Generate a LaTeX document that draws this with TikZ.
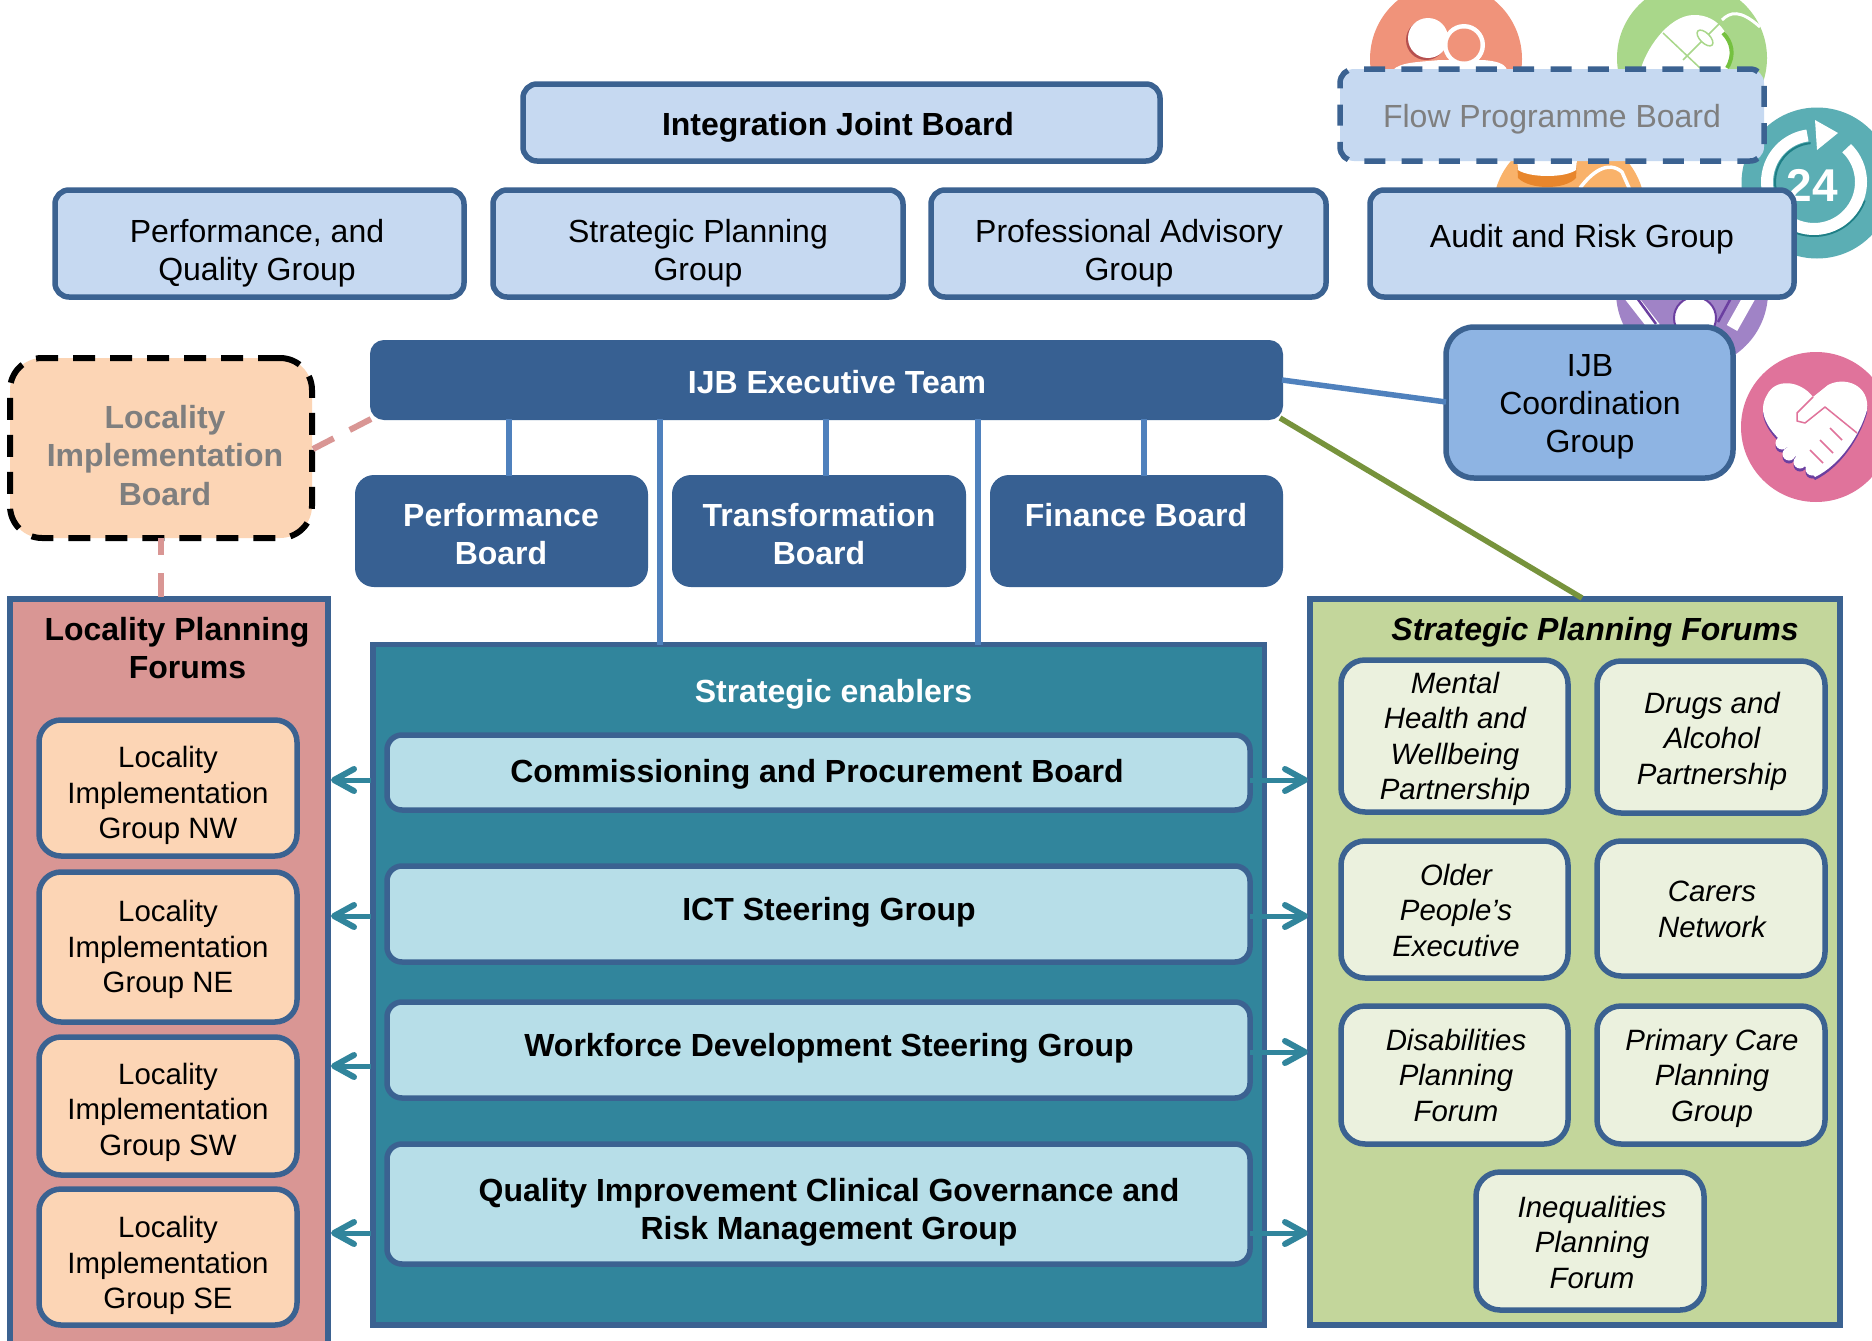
\documentclass[tikz,border=0pt]{standalone}
\usepackage{fontspec}
\setmainfont{Liberation Sans}
\usetikzlibrary{arrows.meta}
\definecolor{edgeblue}{HTML}{3B6291}
\definecolor{lightblue}{HTML}{C6D9F1}
\definecolor{darkblue}{HTML}{376092}
\definecolor{midblue}{HTML}{8EB4E3}
\definecolor{pinkbox}{HTML}{D99694}
\definecolor{peach}{HTML}{FCD5B5}
\definecolor{teal}{HTML}{31859C}
\definecolor{paleteal}{HTML}{B7DEE8}
\definecolor{greenbox}{HTML}{C3D69B}
\definecolor{palegreen}{HTML}{EBF1DE}
\definecolor{linkblue}{HTML}{4F81BD}
\definecolor{linkgreen}{HTML}{77933C}
\definecolor{greytext}{HTML}{7F7F7F}
\definecolor{icsalmon}{HTML}{F0937A}
\definecolor{icsalmond}{HTML}{B5504F}
\definecolor{icgreen}{HTML}{A9D78A}
\definecolor{icgreend}{HTML}{75C13F}
\definecolor{icorange}{HTML}{F9B26A}
\definecolor{icoranged}{HTML}{E8862C}
\definecolor{icteal}{HTML}{5BAEB4}
\definecolor{ictealg}{HTML}{1F7F86}
\definecolor{icpurple}{HTML}{A083C6}
\definecolor{icpurpled}{HTML}{6B3FA0}
\definecolor{icpink}{HTML}{E0739B}
\tikzset{
  x=1pt,y=-1pt,
  boxbase/.style={draw=edgeblue,line width=5.5pt,inner sep=0pt,outer sep=0pt,rectangle},
  topbox/.style={boxbase,fill=lightblue,rounded corners=14pt},
  flowbox/.style={topbox,dash pattern=on 21pt off 16.3pt,dash phase=8pt},
  coordbox/.style={boxbase,fill=midblue,rounded corners=28pt},
  darkbox/.style={boxbase,fill=darkblue,draw=darkblue,rounded corners=18pt,line width=2pt},
  execbox/.style={darkbox,rounded corners=13pt},
  lib/.style={boxbase,fill=peach,draw=black,line width=6pt,rounded corners=32pt,dash pattern=on 22pt off 15pt},
  panelpink/.style={boxbase,fill=pinkbox},
  panelteal/.style={boxbase,fill=teal},
  panelgreen/.style={boxbase,fill=greenbox},
  lig/.style={boxbase,fill=peach,rounded corners=22pt},
  enabler/.style={boxbase,fill=paleteal,rounded corners=15pt},
  forum/.style={boxbase,fill=palegreen,rounded corners=24pt},
  lab/.style={align=center,inner sep=0pt,font=\fontsize{32}{38.2}\selectfont},
  labb/.style={lab,font=\fontsize{32}{38.2}\selectfont\bfseries},
  labw/.style={labb,text=white},
  labg/.style={lab,text=greytext},
  labgb/.style={labb,text=greytext},
  labs/.style={align=center,inner sep=0pt,font=\fontsize{29.4}{35.5}\selectfont},
  labi/.style={labs,font=\fontsize{29.4}{35.5}\selectfont\itshape},
  link/.style={line width=5.5pt,color=linkblue},
  linkg/.style={line width=5.5pt,color=linkgreen},
  linkd/.style={line width=6pt,color=pinkbox,dash pattern=on 24pt off 18pt},
  tealarrow/.style={line width=5pt,color=teal,-{Straight Barb[length=20pt,width=22pt,line width=6pt,round]}},
}
\newcommand{\bx}[6][]{\node[#1,minimum width=#5pt-#3pt,minimum height=#6pt-#4pt,anchor=center] (#2) at ({(#3+#5)/2},{(#4+#6)/2}) {};}
\newcommand{\heartpath}{(1813,397) .. controls (1800,380) and (1775,378) .. (1767,395) .. controls (1758,410) and (1765,425) .. (1780,440) -- (1815,477) .. controls (1840,465) and (1860,435) .. (1867,410) .. controls (1870,385) and (1845,376) .. (1828,385) -- cycle}
\begin{document}
\begin{tikzpicture}
\useasboundingbox (0,0) rectangle (1872,1341);
\fill[white] (0,0) rectangle (1872,1341);
% background icons
\begin{scope}
\clip (0,0) rectangle (1872,1341);
% salmon
\fill[icsalmon] (1446,59) circle (76pt);
\fill[icsalmond] (1426,40) circle (20pt);
\fill[white] (1428,38) circle (20pt);
\fill[white] (1393,70) .. controls (1400,62) and (1420,62) .. (1440,60) -- (1483,60) .. controls (1495,61) and (1505,63) .. (1507,70) -- cycle;
\fill[white] (1464,45) circle (21pt);
\fill[icsalmon] (1464,45) circle (16.5pt);
% green
\fill[icgreen] (1692,58) circle (75pt);
\fill[white] (1640,72) .. controls (1645,50) and (1668,16) .. (1693,15) .. controls (1720,14) and (1738,40) .. (1728,72) -- cycle;
\draw[icgreend,line width=4pt] (1723,33) .. controls (1732,42) and (1735,55) .. (1727,68);
\draw[icgreen,line width=1.5pt] (1663,33) -- (1700,68) (1723,20) -- (1683,60);
\fill[white,draw=icgreen,line width=1.5pt,rotate around={45:(1705,38)}] (1705,38) ellipse (5pt and 10pt);
\draw[white,line width=3pt] (1722,20) .. controls (1730,12) and (1740,9) .. (1760,27);
% orange
\fill[icorange] (1569,210) circle (76pt);
\fill[icoranged] (1517,160) -- (1577,160) -- (1576,178) .. controls (1565,190) and (1530,190) .. (1518,178) -- cycle;
\fill[white] (1517,160) -- (1577,160) -- (1576,170) .. controls (1565,178) and (1530,178) .. (1518,170) -- cycle;
\draw[white,line width=3.5pt] (1580,188) .. controls (1592,172) and (1608,160) .. (1622,172) -- (1630,190);
% teal
\fill[icteal] (1817,183) circle (75.5pt);
\draw[ictealg,line width=2pt] (1814,182) ++(200:39pt) arc[start angle=200,end angle=95,radius=39pt];
\draw[ictealg,line width=2pt] (1814,182) ++(-110:54pt) arc[start angle=-110,end angle=-20,radius=54pt];
\draw[white,line width=12pt] (1814,182) ++(46:47pt) arc[start angle=46,end angle=-262,radius=47pt];
\fill[icteal] (1846,136) -- (1818,152) -- (1822,158) -- (1850,142) -- cycle;
\fill[white] (1838,133) -- (1815,120) -- (1817,150) -- cycle;
\node[font=\fontsize{46}{46}\selectfont\bfseries,text=white,inner sep=0pt] (clock) at (1812,185) {24};
% purple
\fill[icpurple] (1692,292) circle (76pt);
\draw[white,line width=12pt] (1630,296) -- (1655,328);
\draw[icpurpled,line width=2.5pt] (1637,298) -- (1656,324);
\draw[white,line width=12pt] (1750,296) -- (1732,328);
\draw[icpurpled,line width=2.5pt] (1731,298) -- (1718,322);
\fill[white,draw=icpurpled,line width=2pt] (1695,318) circle (21pt);
% pink
\fill[icpink] (1816,427) circle (75pt);
\begin{scope}[yshift=-3pt]
\fill[icpurpled] \heartpath;
\foreach \fx/\fy in {1782/443,1789/454,1800/462,1812/469}{\fill[icpurpled] (\fx,\fy) circle (6.5pt);}
\end{scope}
\fill[white] \heartpath;
\foreach \fx/\fy in {1782/443,1789/454,1800/462,1812/469}{\fill[white] (\fx,\fy) circle (6.5pt);}
\draw[icpink,line width=1.5pt,line join=round] (1813,397) -- (1797,413) -- (1797,421) -- (1805,423) -- (1825,407) -- (1857,433) (1830,428) -- (1842,440) (1820,440) -- (1833,453) (1810,450) -- (1823,463);
\end{scope}
% boxes
\bx[topbox]{ijb}{523}{84}{1160}{161}
\bx[flowbox]{flow}{1340}{69}{1764}{161}
\bx[topbox]{perfq}{55}{190}{464}{297}
\bx[topbox]{strat}{493}{190}{903}{297}
\bx[topbox]{prof}{931}{190}{1326}{297}
\bx[topbox]{audit}{1370}{190}{1794}{297}
\bx[coordbox]{coord}{1446}{327}{1733}{478}
\bx[execbox]{exec}{371}{341}{1282}{419}
\bx[lib]{lb}{10}{358}{312}{538}
\bx[darkbox]{perfb}{356}{476}{647}{586}
\bx[darkbox]{transb}{673}{476}{965}{586}
\bx[darkbox]{finb}{991}{476}{1282}{586}
\bx[panelpink]{lpf}{10}{599}{328}{1345}
\bx[panelteal]{se}{373}{644.5}{1264.5}{1325}
\bx[panelgreen]{spf}{1310}{599}{1840}{1325}
\bx[enabler]{comm}{387}{735}{1250}{810}
\bx[enabler]{ict}{387}{866}{1250}{962}
\bx[enabler]{wf}{387}{1002}{1250}{1098}
\bx[enabler]{qi}{387}{1144}{1250}{1264}
\bx[lig]{nw}{39}{720}{297}{856}
\bx[lig]{ne}{39}{872}{297}{1022}
\bx[lig]{sw}{39}{1037}{297}{1175}
\bx[lig]{se2}{39}{1189}{297}{1325}
\bx[forum]{mh}{1341}{660}{1568}{812}
\bx[forum]{da}{1597}{661}{1825}{813}
\bx[forum]{op}{1341}{841}{1568}{978}
\bx[forum]{cn}{1597}{841}{1825}{976}
\bx[forum]{dp}{1341}{1006}{1568}{1144}
\bx[forum]{pc}{1597}{1006}{1825}{1144}
\bx[forum]{iq}{1476}{1172}{1704}{1310}
% connectors
\coordinate (c1) at (509,0);
\coordinate (c2) at (826,0);
\coordinate (c3) at (1144,0);
\draw[link] (exec.south -| c1) -- (perfb.north -| c1);
\draw[link] (exec.south -| c2) -- (transb.north -| c2);
\draw[link] (exec.south -| c3) -- (finb.north -| c3);
\coordinate (v1) at (660,0);
\coordinate (v2) at (978,0);
\draw[link] (exec.south -| v1) -- (se.north -| v1);
\draw[link] (exec.south -| v2) -- (se.north -| v2);
\coordinate (ca) at (1282,380);
\coordinate (cb) at (1446,402);
\draw[link] (ca) -- (cb);
\coordinate (ga) at (1280,418);
\coordinate (gb) at (1582,598);
\draw[linkg] (ga) -- (gb);
\coordinate (pa) at (371,419);
\coordinate (pb) at (313,449);
\draw[linkd] (pa) -- (pb);
\coordinate (pc0) at (161,0);
\draw[linkd,dash phase=7pt] (lb.south -| pc0) -- (lpf.north -| pc0);
% arrows
\foreach \n/\yy in {1/780,2/916,3/1066,4/1233}{
  \coordinate (la\n) at (371,\yy);
  \coordinate (lt\n) at (331,\yy);
  \draw[tealarrow] (la\n) -- (lt\n);
}
\foreach \n/\yy in {1/780,2/916,3/1052,4/1233}{
  \coordinate (ra\n) at (1250,\yy);
  \coordinate (rt\n) at (1308,\yy);
  \draw[tealarrow] (ra\n) -- (rt\n);
}
% labels
\node[labb] (t-ijb) at (838,127.5) {Integration Joint Board};
\node[labg] (t-flow) at (1552,119.5) {Flow Programme Board};
\node[lab] (t-perfq) at (257,253) {Performance, and\\Quality Group};
\node[lab] (t-strat) at (698,253) {Strategic Planning\\Group};
\node[lab] (t-prof) at (1129,253) {Professional Advisory\\Group};
\node[lab] (t-audit) at (1582,239) {Audit and Risk Group};
\node[lab] (t-coord) at (1590,407) {IJB\\Coordination\\Group};
\node[labw] (t-exec) at (837,382) {IJB Executive Team};
\node[labw] (t-perfb) at (501,534) {Performance\\Board};
\node[labw] (t-transb) at (819,534) {Transformation\\Board};
\node[labw] (t-finb) at (1136,515) {Finance Board};
\node[labgb] (t-lb) at (165,455.5) {Locality\\Implementation\\Board};
\node[labb] (t-lpf) at (177,648) {Locality Planning\\\hspace*{21pt}Forums};
\node[labw] (t-se) at (833.5,694) {Strategic enablers};
\node[labb] (t-comm) at (817,774) {Commissioning and Procurement Board};
\node[labb] (t-ict) at (829,912) {ICT Steering Group};
\node[labb] (t-wf) at (829,1048) {Workforce Development Steering Group};
\node[labb] (t-qi) at (829,1212.5) {Quality Improvement Clinical Governance and\\Risk Management Group};
\node[labb,font=\fontsize{32}{38.2}\selectfont\bfseries\itshape] (t-spf) at (1595,632.5) {Strategic Planning Forums};
\node[labs] (t-nw) at (168,795.5) {Locality\\Implementation\\Group NW};
\node[labs] (t-ne) at (168,949.5) {Locality\\Implementation\\Group NE};
\node[labs] (t-sw) at (168,1112) {Locality\\Implementation\\Group SW};
\node[labs] (t-se3) at (168,1265.5) {Locality\\Implementation\\Group SE};
\node[labi] (t-mh) at (1455,739) {Mental\\Health and\\Wellbeing\\Partnership};
\node[labi] (t-da) at (1712,741) {Drugs and\\Alcohol\\Partnership};
\node[labi] (t-op) at (1456,910) {Older\\People’s\\Executive};
\node[labi] (t-cn) at (1712,909.5) {Carers\\Network};
\node[labi] (t-dp) at (1456,1075) {Disabilities\\Planning\\Forum};
\node[labi] (t-pc) at (1712,1078) {Primary Care\\Planning\\Group};
\node[labi] (t-iq) at (1592,1242) {Inequalities\\Planning\\Forum};
\end{tikzpicture}
\end{document}
